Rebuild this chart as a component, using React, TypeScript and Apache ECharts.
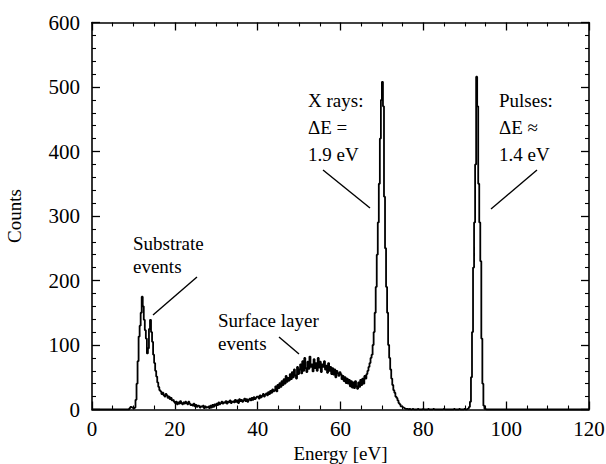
import React, { useEffect, useRef } from "react";
import * as echarts from "echarts";

// Axis settings
const xMin = 0;
const xMax = 120;
const xInterval = 20;
const yMin = 0;
const yMax = 600;
const yInterval = 100;

// Histogram: counts per 0.25 eV bin starting at 8 eV
const binStart = 8;
const binWidth = 0.25;
const counts = [
  // 8-10
  0, 0, 0, 0, 2, 4, 3, 2,
  // 10-12
  1, 3, 15, 40, 75, 113, 130, 150,
  // 12-14
  175, 160, 139, 123, 110, 87, 95, 125,
  // 14-16
  139, 120, 105, 85, 72, 60, 51, 42,
  // 16-18
  35, 30, 28, 24, 26, 22, 20, 24,
  // 18-20
  22, 18, 20, 16, 18, 14, 15, 12,
  // 20-22
  10, 12, 8, 11, 9, 13, 10, 8,
  // 22-24
  11, 9, 12, 10, 8, 12, 9, 7,
  // 24-26
  8, 6, 9, 5, 7, 4, 6, 5,
  // 26-28
  3, 5, 4, 6, 2, 5, 3, 4,
  // 28-30
  5, 2, 6, 3, 7, 4, 8, 6,
  // 30-32
  9, 7, 11, 8, 10, 12, 9, 11,
  // 32-34
  10, 13, 9, 12, 11, 14, 10, 12,
  // 34-36
  13, 11, 15, 12, 14, 10, 16, 13,
  // 36-38
  15, 12, 14, 17, 13, 16, 12, 15,
  // 38-40
  17, 14, 18, 15, 19, 16, 18, 20,
  // 40-42
  20, 17, 22, 19, 21, 24, 20, 23,
  // 42-44
  25, 22, 27, 24, 29, 26, 31, 28,
  // 44-46
  30, 36, 28, 38, 33, 41, 35, 44,
  // 46-48
  38, 47, 40, 52, 43, 49, 45, 55,
  // 48-50
  47, 58, 50, 62, 53, 48, 66, 55,
  // 50-52
  62, 70, 56, 75, 60, 80, 64, 58,
  // 52-54
  74, 63, 82, 66, 70, 59, 78, 64,
  // 54-56
  72, 60, 80, 65, 74, 58, 70, 66,
  // 56-58
  75, 62, 68, 57, 72, 60, 66, 55,
  // 58-60
  64, 54, 62, 50, 60, 56, 52, 58,
  // 60-62
  55, 47, 52, 44, 50, 41, 48, 40,
  // 62-64
  46, 36, 44, 34, 42, 33, 44, 36,
  // 64-66
  32, 42, 35, 46, 38, 48, 40, 52,
  // 66-68
  48, 55, 60, 66, 72, 80, 85, 100,
  // 68-70
  120, 150, 190, 240, 290, 350, 420, 480,
  // 70-72
  508, 470, 330, 250, 190, 150, 100, 80,
  // 72-74
  62, 48, 38, 30, 26, 20, 18, 14,
  // 74-76
  10, 8, 5, 4, 3, 2, 1, 1,
  // 76-78
  1, 0, 1, 0, 0, 1, 0, 0,
  // 78-80
  0, 0, 1, 0, 0, 0, 0, 1,
  // 80-82
  0, 0, 0, 0, 1, 0, 0, 0,
  // 82-84
  0, 1, 0, 0, 0, 0, 0, 0,
  // 84-86
  0, 0, 0, 1, 0, 0, 0, 0,
  // 86-88
  0, 0, 0, 0, 0, 1, 0, 0,
  // 88-90
  0, 0, 1, 0, 0, 0, 0, 1,
  // 90-92
  0, 0, 1, 2, 4, 12, 50, 120,
  // 92-94
  220, 290, 380, 516, 470, 350, 290, 230,
  // 94-96
  110, 40, 6, 1, 0, 0, 0, 0,
];

const xLabel = "Energy [eV]";
const yLabel = "Counts";

const annotations = [
  { text: "Substrate\nevents", x: 133, y: 232, lh: 23 },
  { text: "Surface layer\nevents", x: 218, y: 309, lh: 23 },
  { text: "X rays:\n\u0394E =\n1.9 eV", x: 308, y: 87, lh: 27 },
  { text: "Pulses:\n\u0394E \u2248\n1.4 eV", x: 499, y: 87, lh: 27 },
];

const leaders = [
  [197, 277, 153, 315],
  [279, 337, 299, 354],
  [323, 170, 370, 208],
  [537, 170, 491, 209],
];

const FONT = "'Liberation Serif', 'Times New Roman', serif";

export default function App() {
  const ref = useRef<HTMLDivElement>(null);
  useEffect(() => {
    document.body.style.margin = "0";
    if (!ref.current) return;
    const chart = echarts.init(ref.current, undefined, { renderer: "svg" });

    const pts: number[][] = [[xMin, 0]];
    counts.forEach((c, i) => pts.push([binStart + i * binWidth, c]));
    pts.push([binStart + counts.length * binWidth, 0]);
    pts.push([xMax, 0]);

    const axisCommon = {
      axisLine: { show: true, onZero: false, lineStyle: { color: "#000", width: 1.6 } },
      axisTick: { show: true, inside: true, length: 8, lineStyle: { color: "#000", width: 1.3 } },
      minorTick: { show: true, splitNumber: 5, length: 4, lineStyle: { color: "#000", width: 1.1 } },
      splitLine: { show: false },
    };

    const option: any = {
      animation: false,
      backgroundColor: "#fff",
      grid: {
        left: 92,
        right: 17,
        top: 22.5,
        bottom: 54.5,
        containLabel: false,
        outerBoundsMode: "none",
      },
      xAxis: [
        {
          type: "value",
          min: xMin,
          max: xMax,
          interval: xInterval,
          position: "bottom",
          ...axisCommon,
          minorTick: { ...axisCommon.minorTick, splitNumber: 4 },
          axisLabel: { color: "#000", fontSize: 21, fontFamily: FONT, margin: 9 },
          name: xLabel,
          nameLocation: "middle",
          nameGap: 28,
          nameTextStyle: { color: "#000", fontSize: 19, fontFamily: FONT },
        },
        {
          type: "value",
          min: xMin,
          max: xMax,
          interval: xInterval,
          position: "top",
          ...axisCommon,
          minorTick: { ...axisCommon.minorTick, splitNumber: 4 },
          axisLabel: { show: false },
        },
      ],
      yAxis: [
        {
          type: "value",
          min: yMin,
          max: yMax,
          interval: yInterval,
          position: "left",
          ...axisCommon,
          axisLabel: { color: "#000", fontSize: 21, fontFamily: FONT, margin: 12 },
          name: yLabel,
          nameLocation: "middle",
          nameGap: 68,
          nameRotate: 90,
          nameTextStyle: { color: "#000", fontSize: 19, fontFamily: FONT },
        },
        {
          type: "value",
          min: yMin,
          max: yMax,
          interval: yInterval,
          position: "right",
          ...axisCommon,
          axisLabel: { show: false },
        },
      ],
      series: [
        {
          type: "line",
          step: "end",
          data: pts,
          showSymbol: false,
          symbol: "none",
          lineStyle: { color: "#000", width: 1.8 },
          xAxisIndex: 0,
          yAxisIndex: 0,
          z: 3,
        },
      ],
      graphic: [
        ...annotations.map((a) => ({
          type: "text",
          left: a.x,
          top: a.y,
          style: {
            text: a.text,
            fill: "#000",
            font: `19px ${FONT}`,
            lineHeight: a.lh,
          },
        })),
        ...leaders.map((l) => ({
          type: "line",
          shape: { x1: l[0], y1: l[1], x2: l[2], y2: l[3] },
          style: { stroke: "#000", lineWidth: 1.4 },
        })),
      ],
    };
    chart.setOption(option);
    return () => chart.dispose();
  }, []);
  return (
    <div
      ref={ref}
      style={{ width: 606, height: 464, position: "absolute", left: 0, top: 0 }}
    />
  );
}
